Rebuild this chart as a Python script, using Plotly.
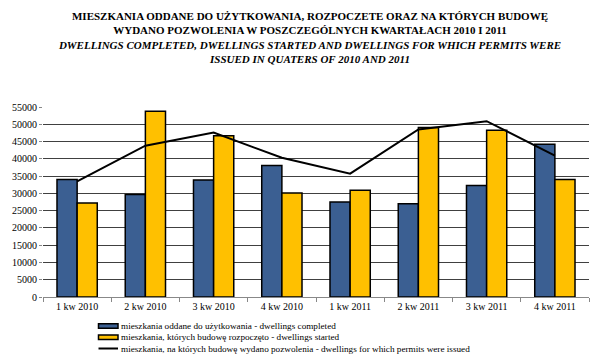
import plotly.graph_objects as go

categories = ["1 kw 2010", "2 kw 2010", "3 kw 2010", "4 kw 2010",
              "1 kw 2011", "2 kw 2011", "3 kw 2011", "4 kw 2011"]
completed = [34000, 29700, 33900, 38100, 27500, 27000, 32300, 44200]
started = [27200, 53800, 46700, 30100, 30900, 49100, 48300, 34000]
permits = [33500, 43800, 47600, 40300, 35700, 48500, 50900, 40900]

name_completed = "mieszkania oddane do użytkowania - dwellings completed"
name_started = "mieszkania, których budowę rozpoczęto - dwellings started"
name_permits = "mieszkania, na których budowę wydano pozwolenia - dwellings for which permits were issued"

title_text = ("<b>MIESZKANIA ODDANE DO UŻYTKOWANIA, ROZPOCZETE ORAZ NA KTÓRYCH BUDOWĘ</b><br>"
              "<b>WYDANO POZWOLENIA W POSZCZEGÓLNYCH KWARTAŁACH 2010 I 2011</b><br>"
              "<b><i>DWELLINGS COMPLETED, DWELLINGS STARTED AND DWELLINGS FOR WHICH PERMITS WERE</i></b><br>"
              "<b><i>ISSUED IN QUATERS OF 2010 AND 2011</i></b>")

serif = "Liberation Serif, Times New Roman, serif"
blue = "#3B5F92"
yellow = "#FFC000"

# page has an 8px body margin: screen pixel = figure pixel + 8
OFF = 8
W, H = 600, 357
ML, MR, MT, MB = 43 - OFF, W - (589 - OFF), 107 - OFF, H - (297 - OFF)
PW, PH = W - ML - MR, H - MT - MB


def px(x):
    return (x - OFF - ML) / PW


def py(y):
    return (H - MB - (y - OFF)) / PH


fig = go.Figure()
fig.add_trace(go.Bar(x=categories, y=completed, name=name_completed,
                     marker=dict(color=blue, line=dict(color="black", width=1.5))))
fig.add_trace(go.Bar(x=categories, y=started, name=name_started,
                     marker=dict(color=yellow, line=dict(color="black", width=1.5))))
fig.add_trace(go.Scatter(x=categories, y=permits, name=name_permits, mode="lines",
                         line=dict(color="black", width=2)))

# manual compact legend (positions in screen pixels)
legend_items = [(name_completed, "bar", blue, 326.0),
                (name_started, "bar", yellow, 337.3),
                (name_permits, "line", "black", 348.5)]
shapes = []
annotations = []
for name, kind, col, yc in legend_items:
    if kind == "bar":
        shapes.append(dict(type="rect", xref="paper", yref="paper",
                           x0=px(98.5), x1=px(118), y0=py(yc + 2.2), y1=py(yc - 2.2),
                           fillcolor=col, line=dict(color="black", width=1.5)))
    else:
        shapes.append(dict(type="line", xref="paper", yref="paper",
                           x0=px(98.5), x1=px(118), y0=py(yc), y1=py(yc),
                           line=dict(color="black", width=2)))
    annotations.append(dict(text=name, xref="paper", yref="paper", x=px(119), y=py(yc),
                            xanchor="left", yanchor="middle", showarrow=False,
                            font=dict(family=serif, size=9.2, color="black")))

fig.update_layout(
    width=W, height=H,
    margin=dict(l=ML, r=MR, t=MT, b=MB, autoexpand=False),
    paper_bgcolor="white", plot_bgcolor="white",
    font=dict(family=serif, size=10, color="black"),
    title=dict(text=title_text, x=(310 - OFF) / W, xanchor="center",
               y=0.966, yanchor="top",
               font=dict(family=serif, size=11, color="black")),
    barmode="group", bargap=0.41, bargroupgap=0,
    showlegend=False,
    shapes=shapes, annotations=annotations,
    xaxis=dict(showgrid=False, showline=True, linecolor="#888888", linewidth=1,
               ticks="outside", tickson="boundaries", ticklen=4, tickcolor="#888888",
               tickfont=dict(family=serif, size=10)),
    yaxis=dict(range=[0, 55000], dtick=5000, showgrid=True, gridcolor="#404040", gridwidth=1,
               showline=False, zeroline=False, ticks="outside", ticklen=3, tickcolor="#888888",
               tickformat="d", tickfont=dict(family=serif, size=10)),
)

fig.write_html("out.html")
